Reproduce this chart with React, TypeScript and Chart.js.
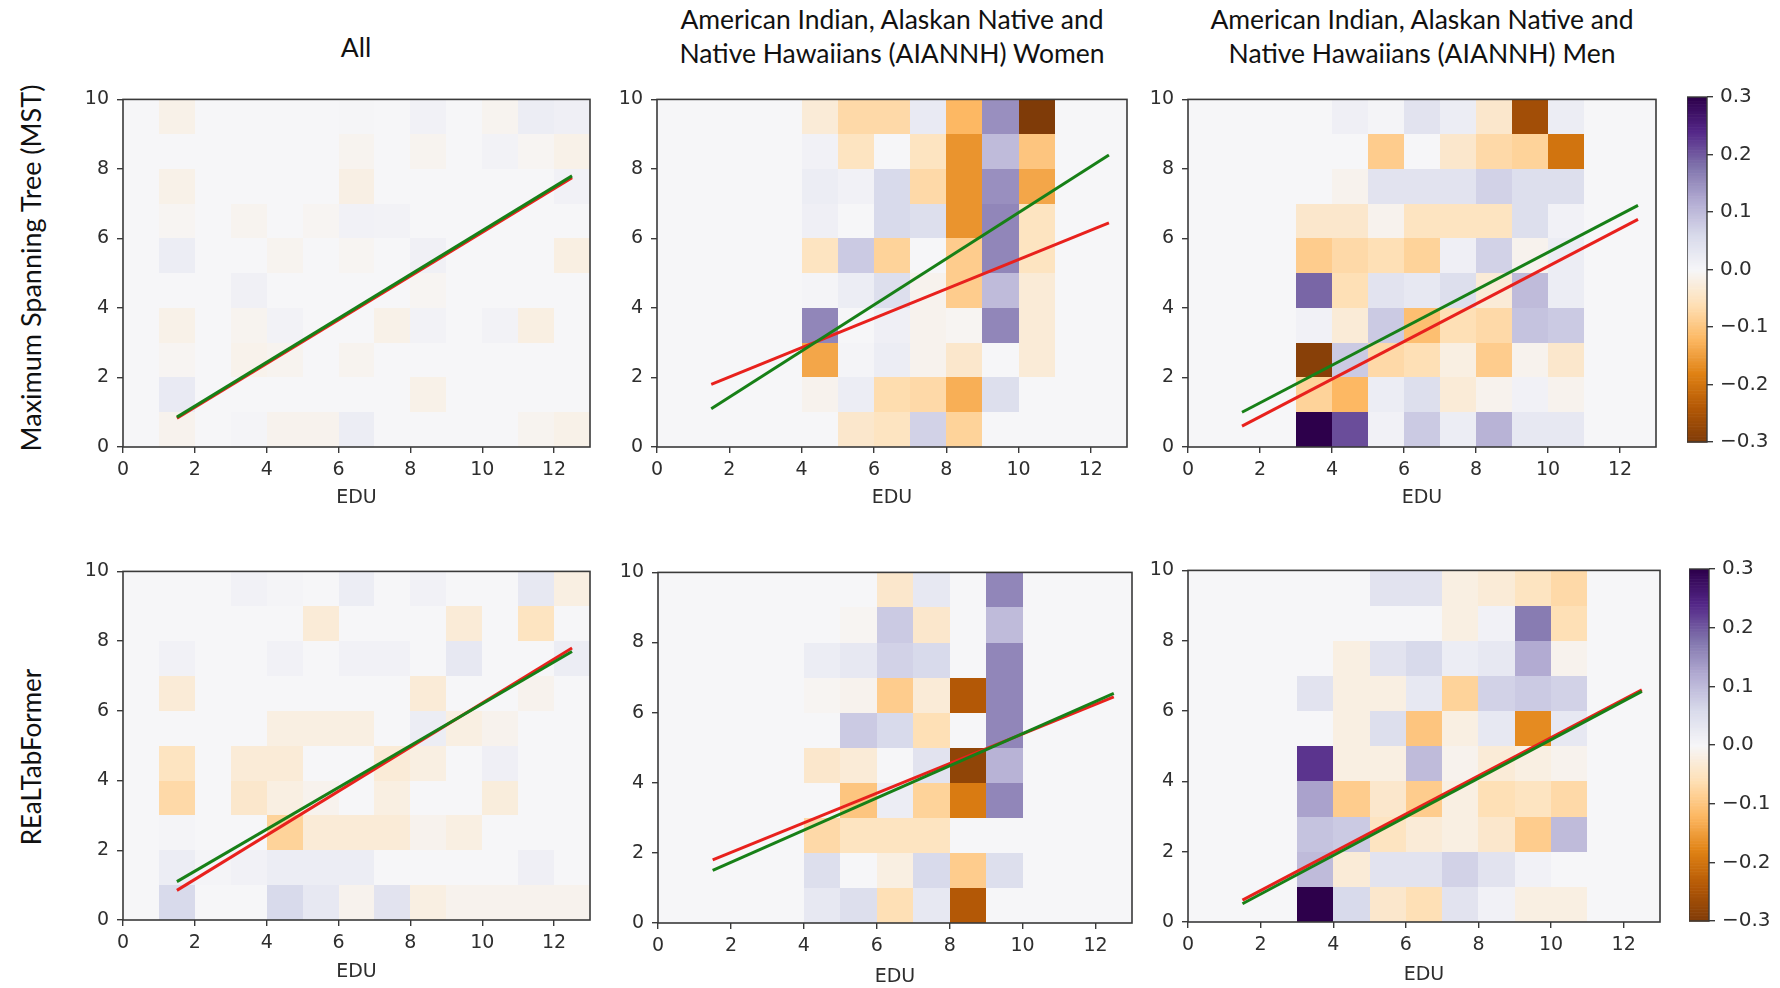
import React, { useEffect, useRef } from "react";
import { Chart, registerables } from "chart.js";
Chart.register(...registerables);

// ---------- data ----------
const xTicks = [0, 2, 4, 6, 8, 10, 12];
const yTicks = [0, 2, 4, 6, 8, 10];
const colorbarTicks = [-0.3, -0.2, -0.1, 0.0, 0.1, 0.2, 0.3];
const lineX = [1.5, 12.5];

const colTitles = [
  ["All"],
  ["American Indian, Alaskan Native and", "Native Hawaiians (AIANNH) Women"],
  ["American Indian, Alaskan Native and", "Native Hawaiians (AIANNH) Men"],
];
const rowTitles = ["Maximum Spanning Tree (MST)", "REaLTabFormer"];
const xTitle = "EDU";

// cells: rows listed from top (EDU-y 9..10) to bottom (0..1), 13 columns (x 0..13)
const mstAllCells = [
  [0, -0.015, 0, 0, 0, 0, 0.003, 0, 0.01, 0, -0.008, 0.02, 0.015],
  [0, 0, 0, 0, 0, 0, -0.008, 0, -0.008, 0, 0.008, -0.005, -0.015],
  [0, -0.015, 0, 0, 0, 0, -0.018, 0, 0, 0, 0, 0, 0.01],
  [0, -0.005, 0, -0.008, 0, -0.005, 0.01, 0.008, 0, 0, 0, 0, 0],
  [0, 0.02, 0, 0, -0.008, 0, -0.005, 0, 0.012, 0, 0, 0, -0.02],
  [0, 0, 0, 0.012, 0, 0, 0, 0, -0.005, 0, 0, 0, 0],
  [0, -0.015, 0, -0.008, 0.008, 0, 0, -0.015, 0.008, 0, 0.008, -0.02, 0],
  [0, -0.005, 0, -0.012, -0.008, 0, -0.008, 0, 0, 0, 0, 0, 0],
  [0, 0.025, 0, 0, 0, 0, 0, 0, -0.015, 0, 0, 0, 0],
  [0, -0.01, 0, 0.005, -0.01, -0.01, 0.02, 0, 0, 0, 0, -0.008, -0.015],
];
const mstWomenCells = [
  [0, 0, 0, 0, -0.03, -0.07, -0.07, 0.025, -0.12, 0.15, -0.3, 0, 0],
  [0, 0, 0, 0, 0.01, -0.05, 0.0, -0.05, -0.16, 0.1, -0.1, 0, 0],
  [0, 0, 0, 0, 0.02, 0.01, 0.06, -0.07, -0.16, 0.15, -0.14, 0, 0],
  [0, 0, 0, 0, 0.015, 0.0, 0.06, 0.05, -0.16, 0.16, -0.05, 0, 0],
  [0, 0, 0, 0, -0.05, 0.08, -0.08, 0.0, -0.09, 0.16, -0.05, 0, 0],
  [0, 0, 0, 0, 0.005, 0.02, 0.05, -0.01, -0.09, 0.1, -0.03, 0, 0],
  [0, 0, 0, 0, 0.16, 0.0, 0.015, -0.01, -0.005, 0.16, -0.03, 0, 0],
  [0, 0, 0, 0, -0.14, 0.005, 0.02, -0.01, -0.04, 0.0, -0.03, 0, 0],
  [0, 0, 0, 0, -0.01, 0.02, -0.065, -0.07, -0.13, 0.05, 0, 0, 0],
  [0, 0, 0, 0, 0, -0.04, -0.05, 0.07, -0.08, 0, 0, 0, 0],
];
const mstMenCells = [
  [0, 0, 0, 0, 0.015, 0.005, 0.04, 0.02, -0.04, -0.26, 0.02, 0, 0],
  [0, 0, 0, 0, 0, -0.09, 0.0, -0.04, -0.07, -0.08, -0.2, 0, 0],
  [0, 0, 0, 0, -0.01, 0.04, 0.04, 0.04, 0.07, 0.05, 0.05, 0, 0],
  [0, 0, 0, -0.04, -0.04, -0.01, -0.05, -0.05, -0.05, 0.05, 0.01, 0, 0],
  [0, 0, 0, -0.09, -0.07, -0.06, -0.08, 0.015, 0.07, -0.01, 0.02, 0, 0],
  [0, 0, 0, 0.19, -0.06, 0.04, 0.03, 0.05, -0.03, 0.1, 0.02, 0, 0],
  [0, 0, 0, 0.01, -0.03, 0.08, -0.11, -0.06, -0.07, 0.09, 0.08, 0, 0],
  [0, 0, 0, -0.29, 0.08, -0.07, -0.06, -0.02, -0.09, -0.01, -0.04, 0, 0],
  [0, 0, 0, -0.08, -0.12, 0.02, 0.05, -0.03, -0.01, 0.01, -0.01, 0, 0],
  [0, 0, 0, 0.3, 0.21, 0.01, 0.08, 0.02, 0.11, 0.03, 0.03, 0, 0],
];
const rtfAllCells = [
  [0, 0, 0, 0.01, 0.005, 0, 0.02, 0, 0.01, 0, 0, 0.03, -0.02],
  [0, 0, 0, 0, 0, -0.03, 0, 0, 0, -0.03, 0, -0.05, 0],
  [0, 0.01, 0, 0, 0.01, 0, 0.01, 0.01, 0, 0.03, 0, 0, 0.02],
  [0, -0.03, 0, 0, 0, 0, 0, 0, -0.03, 0, 0, -0.01, 0],
  [0, 0, 0, 0, -0.02, -0.02, -0.02, 0, 0.02, -0.02, -0.01, 0, 0],
  [0, -0.05, 0, -0.03, -0.03, 0, 0, -0.03, -0.02, 0, 0.015, 0, 0],
  [0, -0.07, 0, -0.04, -0.02, -0.01, 0, -0.02, 0, 0, -0.025, 0, 0],
  [0, 0.005, 0, 0, -0.08, -0.03, -0.03, -0.03, -0.01, -0.02, 0, 0, 0],
  [0, 0.02, 0.005, 0.01, 0.02, 0.02, 0.02, 0, 0, 0, 0, 0.015, 0],
  [0, 0.06, 0, 0, 0.06, 0.03, -0.01, 0.04, -0.02, -0.01, -0.01, -0.01, -0.01],
];
const rtfWomenCells = [
  [0, 0, 0, 0, 0, 0, -0.04, 0.03, 0, 0.16, 0, 0, 0],
  [0, 0, 0, 0, 0, -0.005, 0.08, -0.04, 0, 0.1, 0, 0, 0],
  [0, 0, 0, 0, 0.02, 0.03, 0.07, 0.06, 0, 0.16, 0, 0, 0],
  [0, 0, 0, 0, -0.005, -0.01, -0.09, -0.03, -0.24, 0.16, 0, 0, 0],
  [0, 0, 0, 0, 0, 0.08, 0.06, -0.06, 0.0, 0.16, 0, 0, 0],
  [0, 0, 0, 0, -0.04, -0.03, 0.0, 0.04, -0.28, 0.11, 0, 0, 0],
  [0, 0, 0, 0, 0, -0.1, 0.02, -0.08, -0.19, 0.16, 0, 0, 0],
  [0, 0, 0, 0, -0.07, -0.05, -0.05, -0.05, 0, 0, 0, 0, 0],
  [0, 0, 0, 0, 0.05, 0.0, -0.02, 0.06, -0.09, 0.05, 0, 0, 0],
  [0, 0, 0, 0, 0.03, 0.05, -0.06, 0.03, -0.24, 0, 0, 0, 0],
];
const rtfMenCells = [
  [0, 0, 0, 0, 0, 0.04, 0.04, -0.02, -0.03, -0.05, -0.07, 0, 0],
  [0, 0, 0, 0, 0, 0, 0, -0.02, 0.01, 0.17, -0.06, 0, 0],
  [0, 0, 0, 0, -0.02, 0.04, 0.06, 0.02, 0.03, 0.12, -0.01, 0, 0],
  [0, 0, 0, 0.04, -0.02, -0.02, 0.03, -0.08, 0.07, 0.08, 0.07, 0, 0],
  [0, 0, 0, 0, -0.02, 0.05, -0.1, -0.02, 0.03, -0.17, 0.03, 0, 0],
  [0, 0, 0, 0.23, -0.02, -0.02, 0.1, -0.01, -0.03, -0.02, -0.01, 0, 0],
  [0, 0, 0, 0.13, -0.09, -0.04, -0.09, -0.02, -0.06, -0.05, -0.07, 0, 0],
  [0, 0, 0, 0.09, 0.08, -0.05, -0.03, -0.02, -0.04, -0.09, 0.1, 0, 0],
  [0, 0, 0, 0.1, -0.03, 0.04, 0.04, 0.07, 0.04, 0.01, 0.0, 0, 0],
  [0, 0, 0, 0.3, 0.06, -0.04, -0.06, 0.04, 0.01, -0.02, -0.02, 0, 0],
];

// regression lines, y at x = 1.5 and x = 12.5
const mstAllRed = [0.83, 7.75];
const mstAllGreen = [0.86, 7.8];
const mstWomenRed = [1.8, 6.45];
const mstWomenGreen = [1.1, 8.4];
const mstMenRed = [0.6, 6.55];
const mstMenGreen = [1.0, 6.95];
const rtfAllRed = [0.85, 7.8];
const rtfAllGreen = [1.1, 7.7];
const rtfWomenRed = [1.8, 6.45];
const rtfWomenGreen = [1.5, 6.55];
const rtfMenRed = [0.62, 6.6];
const rtfMenGreen = [0.52, 6.56];

// ---------- styles ----------
const VMIN = -0.3;
const VMAX = 0.3;
const PUOR = ["#7f3b08", "#b35806", "#e08214", "#fdb863", "#fee0b6", "#f6f6f8", "#d8daeb", "#b2abd2", "#8073ac", "#542788", "#2d004b"];
const RED = "#e8211d";
const GREEN = "#178017";
const AXIS = "#3a3a3a";
const TICK_COLOR = "#2e2e2e";
const TICK_FONT = { family: "'DejaVu Sans', sans-serif", size: 19 };
const TEXT_FONT = "Lato, 'Open Sans', sans-serif";

function hexToRgb(h: string) {
  const n = parseInt(h.slice(1), 16);
  return [(n >> 16) & 255, (n >> 8) & 255, n & 255];
}
const PUOR_RGB = PUOR.map(hexToRgb);
function puor(v: number) {
  const t = Math.min(1, Math.max(0, (v - VMIN) / (VMAX - VMIN))) * (PUOR_RGB.length - 1);
  const i = Math.min(PUOR_RGB.length - 2, Math.floor(t));
  const f = t - i;
  const a = PUOR_RGB[i];
  const b = PUOR_RGB[i + 1];
  const c = a.map((av, k) => Math.round(av + (b[k] - av) * f));
  return `rgb(${c[0]},${c[1]},${c[2]})`;
}
function fmtCb(v: number) {
  if (Math.abs(v) < 1e-9) return "0.0";
  return v < 0 ? "\u2212" + Math.abs(v).toFixed(1) : v.toFixed(1);
}

type PanelCfg = {
  left: number; top: number; right: number; bottom: number;
  cells: number[][]; red: number[]; green: number[]; eduOffset: number;
};

const panels: PanelCfg[] = [
  { left: 123, top: 94, right: 590, bottom: 447, cells: mstAllCells, red: mstAllRed, green: mstAllGreen, eduOffset: 51 },
  { left: 657, top: 94, right: 1127, bottom: 447, cells: mstWomenCells, red: mstWomenRed, green: mstWomenGreen, eduOffset: 51 },
  { left: 1188, top: 94, right: 1656, bottom: 447, cells: mstMenCells, red: mstMenRed, green: mstMenGreen, eduOffset: 51 },
  { left: 123, top: 566, right: 590, bottom: 920, cells: rtfAllCells, red: rtfAllRed, green: rtfAllGreen, eduOffset: 52 },
  { left: 658, top: 567, right: 1132, bottom: 923, cells: rtfWomenCells, red: rtfWomenRed, green: rtfWomenGreen, eduOffset: 54 },
  { left: 1188, top: 565, right: 1660, bottom: 922, cells: rtfMenCells, red: rtfMenRed, green: rtfMenGreen, eduOffset: 53 },
];
const colorbars = [
  { left: 1687, top: 92, right: 1707, bottom: 447 },
  { left: 1689, top: 564, right: 1709, bottom: 926 },
];

const PAD_L = 72, PAD_T = 14, PAD_R = 14, PAD_B = 72;

function HeatPanel({ cfg }: { cfg: PanelCfg }) {
  const ref = useRef<HTMLCanvasElement>(null);
  const w = cfg.right - cfg.left + PAD_L + PAD_R;
  const h = cfg.bottom - cfg.top + PAD_T + PAD_B;
  useEffect(() => {
    const heat = {
      id: "heatcells",
      beforeDatasetsDraw(chart: any) {
        const { ctx, chartArea, scales } = chart;
        const xs = scales.x, ys = scales.y;
        ctx.save();
        ctx.beginPath();
        ctx.rect(chartArea.left, chartArea.top, chartArea.right - chartArea.left, chartArea.bottom - chartArea.top);
        ctx.clip();
        const n = cfg.cells.length;
        cfg.cells.forEach((row, r) => {
          const yv = n - 1 - r;
          row.forEach((v, c) => {
            const x0 = Math.round(xs.getPixelForValue(c));
            const x1 = Math.round(xs.getPixelForValue(c + 1));
            const y0 = Math.round(ys.getPixelForValue(yv + 1));
            const y1 = Math.round(ys.getPixelForValue(yv));
            ctx.fillStyle = puor(v);
            ctx.fillRect(x0, y0, x1 - x0, y1 - y0);
          });
        });
        ctx.restore();
      },
      afterDraw(chart: any) {
        const { ctx, chartArea } = chart;
        ctx.save();
        ctx.strokeStyle = AXIS;
        ctx.lineWidth = 1.6;
        ctx.strokeRect(chartArea.left, chartArea.top, chartArea.right - chartArea.left, chartArea.bottom - chartArea.top);
        ctx.restore();
      },
    };
    const lh = TICK_FONT.size * 1.2;
    const chart = new Chart(ref.current as HTMLCanvasElement, {
      type: "scatter",
      data: {
        datasets: [
          { label: "green", data: lineX.map((x, i) => ({ x, y: cfg.green[i] })), showLine: true, borderColor: GREEN, backgroundColor: GREEN, borderWidth: 3, pointRadius: 0 },
          { label: "red", data: lineX.map((x, i) => ({ x, y: cfg.red[i] })), showLine: true, borderColor: RED, backgroundColor: RED, borderWidth: 3, pointRadius: 0 },
        ],
      },
      options: {
        animation: false,
        responsive: false,
        maintainAspectRatio: false,
        layout: { padding: { left: 0, top: PAD_T, right: PAD_R, bottom: 0 } },
        plugins: { legend: { display: false }, tooltip: { enabled: false } },
        scales: {
          x: {
            type: "linear", min: 0, max: 13,
            afterBuildTicks: (s: any) => { s.ticks = xTicks.map((v) => ({ value: v })); },
            afterFit: (s: any) => { s.height = PAD_B; },
            grid: { drawOnChartArea: false, drawTicks: true, tickLength: 6, color: AXIS, lineWidth: 1.4 },
            border: { display: false },
            ticks: { font: TICK_FONT, color: TICK_COLOR, padding: 6, maxRotation: 0, autoSkip: false },
            title: { display: true, text: xTitle, font: TICK_FONT, color: TICK_COLOR, padding: { top: 0, bottom: PAD_B - cfg.eduOffset - lh / 2 } },
          },
          y: {
            type: "linear", min: 0, max: 10,
            afterBuildTicks: (s: any) => { s.ticks = yTicks.map((v) => ({ value: v })); },
            afterFit: (s: any) => { s.width = PAD_L; },
            grid: { drawOnChartArea: false, drawTicks: true, tickLength: 6, color: AXIS, lineWidth: 1.4 },
            border: { display: false },
            ticks: { font: TICK_FONT, color: TICK_COLOR, padding: 8, autoSkip: false },
          },
        },
      } as any,
      plugins: [heat],
    });
    return () => chart.destroy();
  }, []);
  return (
    <canvas
      ref={ref}
      width={w}
      height={h}
      style={{ position: "absolute", left: cfg.left - PAD_L, top: cfg.top - PAD_T, width: w, height: h }}
    />
  );
}

const CB_R = 90;
function Colorbar({ cfg }: { cfg: { left: number; top: number; right: number; bottom: number } }) {
  const ref = useRef<HTMLCanvasElement>(null);
  const w = cfg.right - cfg.left + CB_R;
  const h = cfg.bottom - cfg.top + PAD_T * 2;
  useEffect(() => {
    const grad = {
      id: "cbgrad",
      beforeDatasetsDraw(chart: any) {
        const { ctx, chartArea, scales } = chart;
        const ys = scales.y;
        const steps = 240;
        for (let i = 0; i < steps; i++) {
          const v0 = VMIN + ((VMAX - VMIN) * i) / steps;
          const v1 = VMIN + ((VMAX - VMIN) * (i + 1)) / steps;
          const yA = ys.getPixelForValue(v1);
          const yB = ys.getPixelForValue(v0);
          ctx.fillStyle = puor((v0 + v1) / 2);
          ctx.fillRect(chartArea.left, yA, chartArea.right - chartArea.left, yB - yA + 0.6);
        }
      },
      afterDraw(chart: any) {
        const { ctx, chartArea } = chart;
        ctx.save();
        ctx.strokeStyle = AXIS;
        ctx.lineWidth = 1.4;
        ctx.strokeRect(chartArea.left, chartArea.top, chartArea.right - chartArea.left, chartArea.bottom - chartArea.top);
        ctx.restore();
      },
    };
    const chart = new Chart(ref.current as HTMLCanvasElement, {
      type: "scatter",
      data: { datasets: [] },
      options: {
        animation: false,
        responsive: false,
        maintainAspectRatio: false,
        layout: { padding: { left: 0, top: PAD_T, right: 0, bottom: PAD_T } },
        plugins: { legend: { display: false }, tooltip: { enabled: false } },
        scales: {
          x: { type: "linear", display: false, min: 0, max: 1 },
          y: {
            type: "linear", position: "right", min: VMIN, max: VMAX,
            afterBuildTicks: (s: any) => { s.ticks = colorbarTicks.map((v) => ({ value: v })); },
            afterFit: (s: any) => { s.width = CB_R; },
            grid: { drawOnChartArea: false, drawTicks: true, tickLength: 6, color: AXIS, lineWidth: 1.4 },
            border: { display: false },
            ticks: { font: { family: TICK_FONT.family, size: 20 }, color: TICK_COLOR, padding: 7, autoSkip: false, callback: (v: any) => fmtCb(Number(v)) },
          },
        },
      } as any,
      plugins: [grad],
    });
    return () => chart.destroy();
  }, []);
  return (
    <canvas
      ref={ref}
      width={w}
      height={h}
      style={{ position: "absolute", left: cfg.left, top: cfg.top - PAD_T, width: w, height: h }}
    />
  );
}

function Label({ x, y, text, size, rotate }: { x: number; y: number; text: string; size: number; rotate?: boolean }) {
  return (
    <div
      style={{
        position: "absolute",
        left: x,
        top: y,
        transform: `translate(-50%, -50%)${rotate ? " rotate(-90deg)" : ""}`,
        whiteSpace: "nowrap",
        fontFamily: TEXT_FONT,
        fontSize: size,
        lineHeight: 1,
        color: "#111",
      }}
    >
      {text}
    </div>
  );
}

export default function App() {
  const titleCenters = [356, 892, 1422];
  return (
    <div style={{ position: "fixed", left: 0, top: 0, width: 1780, height: 988, background: "#fff", overflow: "hidden" }}>
      {panels.map((p, i) => <HeatPanel key={i} cfg={p} />)}
      {colorbars.map((c, i) => <Colorbar key={i} cfg={c} />)}
      <Label x={titleCenters[0]} y={47} text={colTitles[0][0]} size={26.5} />
      {colTitles.slice(1).map((lines, i) =>
        lines.map((t, j) => <Label key={`${i}-${j}`} x={titleCenters[i + 1]} y={19 + j * 34} text={t} size={26.5} />)
      )}
      <Label x={30} y={268} text={rowTitles[0]} size={27} rotate />
      <Label x={31} y={757} text={rowTitles[1]} size={26} rotate />
    </div>
  );
}
